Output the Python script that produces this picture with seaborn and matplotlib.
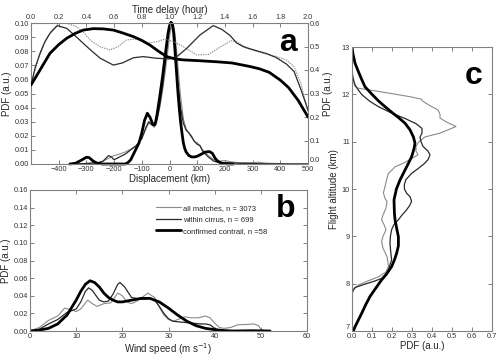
import numpy as np
import pandas as pd
import matplotlib
matplotlib.use("Agg")
import matplotlib.pyplot as plt
import seaborn as sns

# ---------------- data ----------------
# Panel a: displacement PDFs (km, PDF)
disp_all_x = [-350, -300, -260, -240, -220, -200, -180, -160, -140, -120, -100, -85, -75, -65, -55, -45, -35, -25, -15, -5,
              0, 5, 10, 15, 20, 25, 30, 40, 50, 60, 70, 80, 90, 100, 110, 120, 130, 140, 160, 180, 200, 220, 250, 300, 320,
              350, 400, 450, 500]
disp_all_y = [0.0, 0.0005, 0.001, 0.002, 0.004, 0.006, 0.007, 0.0085, 0.0105, 0.013, 0.018, 0.025, 0.029, 0.028, 0.026,
              0.031, 0.04, 0.052, 0.066, 0.082, 0.09, 0.097, 0.1, 0.098, 0.092, 0.082, 0.07, 0.048, 0.032, 0.025, 0.022,
              0.02, 0.016, 0.015, 0.013, 0.01, 0.008, 0.006, 0.003, 0.002, 0.0025, 0.0015, 0.001, 0.001, 0.0012, 0.0006,
              0.0003, 0.0001, 0.0]
disp_cir_x = [-350, -300, -260, -240, -220, -210, -200, -180, -160, -140, -120, -100, -85, -75, -65, -55, -45, -35, -25,
              -15, -5, 0, 5, 10, 15, 20, 25, 30, 40, 50, 60, 70, 80, 90, 100, 110, 120, 130, 140, 160, 180, 200, 250, 300,
              400, 500]
disp_cir_y = [0.0, 0.0003, 0.0008, 0.002, 0.006, 0.005, 0.003, 0.005, 0.007, 0.01, 0.013, 0.018, 0.026, 0.03, 0.028,
              0.027, 0.032, 0.042, 0.055, 0.072, 0.09, 0.096, 0.1, 0.101, 0.096, 0.086, 0.072, 0.058, 0.04, 0.029, 0.024,
              0.022, 0.019, 0.016, 0.014, 0.013, 0.009, 0.007, 0.005, 0.002, 0.001, 0.001, 0.0005, 0.0003, 0.0, 0.0]
disp_con_x = [-360, -340, -320, -300, -290, -275, -260, -240, -160, -150, -140, -130, -120, -110, -100, -90, -80, -70,
              -60, -52, -45, -35, -25, -15, -5, 0, 5, 10, 15, 20, 25, 30, 35, 40, 45, 50, 55, 60, 70, 80, 90, 100, 110,
              120, 130, 145, 155, 165, 175, 190, 210, 230]
disp_con_y = [0.0, 0.0005, 0.0025, 0.0048, 0.0045, 0.002, 0.0005, 0.0, 0.0, 0.001, 0.003, 0.007, 0.011, 0.015, 0.022,
              0.031, 0.036, 0.033, 0.028, 0.028, 0.035, 0.048, 0.062, 0.078, 0.093, 0.098, 0.1005, 0.0995, 0.093, 0.08,
              0.066, 0.052, 0.04, 0.03, 0.022, 0.015, 0.011, 0.0085, 0.006, 0.005, 0.005, 0.0055, 0.0065, 0.0075, 0.0085,
              0.0088, 0.0075, 0.004, 0.0018, 0.0005, 0.0, 0.0]

# Panel a: time delay PDFs (hour, PDF)
time_all_x = [0.0, 0.05, 0.1, 0.15, 0.2, 0.24, 0.28, 0.33, 0.38, 0.426, 0.498, 0.57, 0.63, 0.69, 0.763, 0.835, 0.907,
              0.967, 1.03, 1.1, 1.196, 1.28, 1.389, 1.449, 1.5, 1.557, 1.677, 1.773, 1.845, 1.9, 1.95, 2.0]
time_all_y = [0.336, 0.44, 0.52, 0.57, 0.596, 0.6, 0.595, 0.584, 0.56, 0.528, 0.499, 0.485, 0.5, 0.528, 0.532, 0.514,
              0.52, 0.532, 0.52, 0.499, 0.464, 0.466, 0.506, 0.525, 0.515, 0.492, 0.471, 0.457, 0.442, 0.414, 0.34, 0.22]
time_cir_x = [0.0, 0.03, 0.065, 0.1, 0.137, 0.19, 0.258, 0.32, 0.378, 0.44, 0.5, 0.594, 0.66, 0.739, 0.81, 0.907, 1.0,
              1.06, 1.124, 1.22, 1.316, 1.38, 1.437, 1.485, 1.534, 1.6, 1.7, 1.77, 1.845, 1.9, 1.95, 2.0]
time_cir_y = [0.336, 0.41, 0.471, 0.52, 0.556, 0.589, 0.577, 0.545, 0.513, 0.48, 0.45, 0.421, 0.43, 0.452, 0.457, 0.45,
              0.447, 0.46, 0.492, 0.549, 0.589, 0.572, 0.547, 0.515, 0.499, 0.487, 0.47, 0.453, 0.425, 0.393, 0.315, 0.23]
time_con_x = [0.0, 0.065, 0.137, 0.2, 0.258, 0.32, 0.378, 0.45, 0.52, 0.594, 0.66, 0.739, 0.8, 0.859, 0.92, 0.98, 1.04,
              1.1, 1.2, 1.34, 1.45, 1.58, 1.65, 1.72, 1.8, 1.86, 1.93, 2.0]
time_con_y = [0.336, 0.4, 0.471, 0.508, 0.535, 0.556, 0.57, 0.576, 0.575, 0.57, 0.558, 0.542, 0.526, 0.506, 0.48, 0.457,
              0.447, 0.443, 0.44, 0.435, 0.43, 0.415, 0.405, 0.39, 0.357, 0.325, 0.27, 0.2]

# Panel b: wind speed PDFs (m/s, PDF)
wind_all_x = [0, 2, 4, 6, 7.5, 9, 10, 11, 12.5, 13.5, 14.5, 16, 17.5, 19, 20, 21, 22, 23.5, 25.5, 27, 28, 29, 30, 31, 32,
              33.5, 35, 36.5, 38, 39, 40, 41, 42, 43.5, 45, 47, 48.5, 49.5, 50, 51]
wind_all_y = [0.0, 0.004, 0.012, 0.017, 0.026, 0.024, 0.022, 0.025, 0.035, 0.031, 0.028, 0.031, 0.032, 0.043, 0.04,
              0.033, 0.031, 0.035, 0.043, 0.038, 0.027, 0.018, 0.013, 0.011, 0.013, 0.016, 0.015, 0.015, 0.017, 0.015,
              0.009, 0.004, 0.003, 0.004, 0.007, 0.0075, 0.008, 0.006, 0.002, 0.0]
wind_cir_x = [0, 2, 4, 6, 8, 10, 11, 12, 12.7, 13.5, 15, 16, 17, 18, 19, 19.5, 20.5, 22, 24, 26, 27, 28, 29, 30, 31, 33,
              35, 37, 38, 39, 40, 41, 42]
wind_cir_y = [0.0, 0.002, 0.008, 0.013, 0.021, 0.025, 0.033, 0.045, 0.049, 0.046, 0.035, 0.033, 0.034, 0.042, 0.053,
              0.055, 0.05, 0.038, 0.036, 0.037, 0.035, 0.028, 0.02, 0.014, 0.011, 0.01, 0.009, 0.008, 0.008, 0.007, 0.003,
              0.0005, 0.0]
wind_con_x = [0, 2, 4, 6, 8, 10, 11, 12, 13, 14, 15, 16, 17, 18, 19, 20, 22, 24, 26, 28, 30, 32, 34, 36, 38, 40, 42, 44,
              48, 52]
wind_con_y = [0.0, 0.001, 0.003, 0.008, 0.018, 0.035, 0.045, 0.053, 0.057, 0.055, 0.05, 0.043, 0.038, 0.035, 0.033,
              0.033, 0.035, 0.037, 0.037, 0.033, 0.026, 0.018, 0.011, 0.006, 0.003, 0.0015, 0.0005, 0.0, 0.0003, 0.0]

# Panel c: flight altitude PDFs (km, PDF)
alt_all = [12.45, 12.3, 12.17, 12.13, 12.05, 11.95, 11.9, 11.85, 11.76, 11.67, 11.58, 11.5, 11.42, 11.32, 11.25, 11.18,
           11.1, 11.0, 10.9, 10.8, 10.72, 10.65, 10.55, 10.47, 10.4, 10.33, 10.2, 10.05, 9.92, 9.8, 9.74, 9.6, 9.45,
           9.35, 9.25, 9.14, 9.0, 8.89, 8.75, 8.57, 8.45, 8.36, 8.25, 8.15, 8.05, 7.97, 7.87, 7.8, 7.72]
pdf_alt_all = [0.0, 0.005, 0.015, 0.03, 0.15, 0.29, 0.345, 0.355, 0.39, 0.43, 0.44, 0.44, 0.47, 0.52, 0.48, 0.44,
               0.365, 0.335, 0.32, 0.32, 0.33, 0.3, 0.26, 0.215, 0.2, 0.182, 0.173, 0.165, 0.157, 0.165, 0.175, 0.17,
               0.155, 0.148, 0.16, 0.17, 0.155, 0.148, 0.155, 0.175, 0.18, 0.182, 0.17, 0.135, 0.075, 0.032, 0.007,
               0.002, 0.0]
alt_cir = [12.52, 12.35, 12.2, 12.1, 11.99, 11.85, 11.74, 11.6, 11.49, 11.38, 11.28, 11.18, 11.1, 11.0, 10.9, 10.8,
           10.72, 10.62, 10.53, 10.43, 10.33, 10.2, 10.1, 10.0, 9.9, 9.84, 9.74, 9.65, 9.56, 9.45, 9.35, 9.25, 9.14,
           9.0, 8.86, 8.7, 8.5, 8.4, 8.29, 8.2, 8.11, 8.05, 7.99, 7.92, 7.85, 7.76]
pdf_alt_cir = [0.0, 0.005, 0.015, 0.03, 0.05, 0.09, 0.132, 0.2, 0.265, 0.32, 0.35, 0.35, 0.34, 0.345, 0.355, 0.38,
               0.39, 0.38, 0.36, 0.33, 0.298, 0.27, 0.262, 0.262, 0.275, 0.29, 0.298, 0.288, 0.273, 0.25, 0.232, 0.21,
               0.198, 0.192, 0.19, 0.193, 0.198, 0.19, 0.182, 0.17, 0.148, 0.11, 0.065, 0.015, 0.004, 0.0]
alt_con = [13.0, 12.85, 12.66, 12.5, 12.3, 12.16, 12.0, 11.85, 11.74, 11.6, 11.5, 11.39, 11.25, 11.1, 10.97, 10.85,
           10.68, 10.55, 10.4, 10.19, 10.0, 9.77, 9.5, 9.35, 9.2, 8.99, 8.8, 8.64, 8.5, 8.36, 8.2, 8.08, 7.9, 7.73,
           7.55, 7.37, 7.2, 7.09, 7.0]
pdf_alt_con = [0.0, 0.005, 0.015, 0.03, 0.05, 0.065, 0.1, 0.135, 0.165, 0.205, 0.235, 0.265, 0.29, 0.307, 0.315, 0.31,
               0.298, 0.283, 0.265, 0.24, 0.222, 0.21, 0.212, 0.215, 0.222, 0.232, 0.232, 0.223, 0.212, 0.198, 0.172,
               0.148, 0.118, 0.09, 0.068, 0.048, 0.028, 0.015, 0.007]

labels = ["all matches, n = 3073", "within cirrus, n = 699", "confirmed contrail, n =58"]

# ---------------- style ----------------
sns.set_theme(style="ticks")
plt.rcParams["font.family"] = ["Liberation Sans", "DejaVu Sans"]
plt.rcParams["axes.edgecolor"] = "#808080"
plt.rcParams["axes.linewidth"] = 0.8
plt.rcParams["xtick.color"] = "#808080"
plt.rcParams["ytick.color"] = "#808080"
plt.rcParams["xtick.labelcolor"] = "#333333"
plt.rcParams["ytick.labelcolor"] = "#333333"

C_ALL = "#8a8a8a"
C_CIR = "#2a2a2a"
C_CON = "#000000"
LW_ALL, LW_CIR, LW_CON = 0.8, 0.9, 2.0
TICK_FS = 5.3
LAB_FS = 7

W, H = 500, 356
fig = plt.figure(figsize=(W / 100, H / 100), dpi=100)


def rect(x0, y0, x1, y1):
    return [x0 / W, 1 - y1 / H, (x1 - x0) / W, (y1 - y0) / H]


def style_ticks(ax, **kw):
    ax.tick_params(direction="in", length=3, width=0.7, labelsize=TICK_FS, pad=1.5, **kw)


def line(ax, x, y, **kw):
    sns.lineplot(x=x, y=y, ax=ax, estimator=None, sort=False, **kw)


# ---------------- panel a ----------------
axa = fig.add_axes(rect(31, 23, 308, 164))
line(axa, disp_all_x, disp_all_y, color=C_ALL, lw=LW_ALL)
line(axa, disp_cir_x, disp_cir_y, color=C_CIR, lw=LW_CIR)
line(axa, disp_con_x, disp_con_y, color=C_CON, lw=LW_CON, clip_on=False)
axa.set_xlim(-500, 500)
axa.set_ylim(0, 0.10)
axa.set_xticks(np.arange(-400, 501, 100))
axa.set_yticks(np.arange(0, 0.1001, 0.01))
axa.set_yticklabels([f"{v:.2f}" for v in np.arange(0, 0.1001, 0.01)])
axa.set_xlabel("Displacement (km)", fontsize=LAB_FS, labelpad=1)
axa.set_ylabel("PDF (a.u.)", fontsize=LAB_FS, labelpad=2)
style_ticks(axa, top=False, right=False)

axt = fig.add_axes(rect(31, 23, 308, 164), frameon=False)
axt.patch.set_alpha(0)
line(axt, time_all_x, time_all_y, color=C_ALL, lw=0.8, ls=(0, (1.2, 1.0)))
line(axt, time_cir_x, time_cir_y, color=C_CIR, lw=LW_CIR)
line(axt, time_con_x, time_con_y, color=C_CON, lw=LW_CON)
axt.set_xlim(0, 2.0)
axt.set_ylim(0, 0.6)
axt.xaxis.tick_top()
axt.xaxis.set_label_position("top")
axt.yaxis.tick_right()
axt.yaxis.set_label_position("right")
axt.set_xticks(np.arange(0, 2.01, 0.2))
axt.set_xticklabels([f"{v:.1f}" for v in np.arange(0, 2.01, 0.2)])
axt.set_yticks(np.arange(0, 0.61, 0.1))
axt.set_yticklabels([f"{v:.1f}" for v in np.arange(0, 0.61, 0.1)])
axt.set_xlabel("Time delay (hour)", fontsize=LAB_FS, labelpad=1)
axt.set_ylabel("PDF (a.u.)", fontsize=LAB_FS, labelpad=2)
style_ticks(axt, top=True, right=True, bottom=False, left=False,
            labeltop=True, labelright=True, labelbottom=False, labelleft=False)
axt.get_yticklabels()[0].set_va("bottom")

# ---------------- panel b ----------------
axb = fig.add_axes(rect(30, 190, 307, 331))
line(axb, wind_all_x, wind_all_y, color=C_ALL, lw=LW_ALL, label=labels[0])
line(axb, wind_cir_x, wind_cir_y, color=C_CIR, lw=LW_CIR, label=labels[1])
line(axb, wind_con_x, wind_con_y, color=C_CON, lw=LW_CON, label=labels[2])
axb.set_xlim(0, 60)
axb.set_ylim(0, 0.16)
axb.set_xticks(np.arange(0, 61, 10))
axb.set_yticks(np.arange(0, 0.161, 0.02))
axb.set_yticklabels([f"{v:.2f}" for v in np.arange(0, 0.161, 0.02)])
axb.set_xlabel("Wind speed (m s$^{-1}$)", fontsize=LAB_FS, labelpad=1)
axb.set_ylabel("PDF (a.u.)", fontsize=LAB_FS, labelpad=2)
style_ticks(axb, top=True, right=True)
axb.legend(loc="upper left", bbox_to_anchor=(0.445, 0.92), frameon=False, fontsize=5.5,
           handlelength=3.2, handletextpad=0.3, labelspacing=0.55, borderaxespad=0)

# ---------------- panel c ----------------
axc = fig.add_axes(rect(352, 47, 492, 331))
line(axc, pdf_alt_all, alt_all, color=C_ALL, lw=LW_ALL)
line(axc, pdf_alt_cir, alt_cir, color=C_CIR, lw=LW_CIR)
line(axc, pdf_alt_con, alt_con, color=C_CON, lw=LW_CON)
axc.set_xlim(0, 0.7)
axc.set_ylim(7, 13)
axc.set_xticks(np.arange(0, 0.71, 0.1))
axc.set_xticklabels([f"{v:.1f}" for v in np.arange(0, 0.71, 0.1)])
axc.set_yticks(np.arange(7, 13.1, 1))
axc.set_xlabel("PDF (a.u.)", fontsize=LAB_FS, labelpad=1)
axc.set_ylabel("Flight altitude (km)", fontsize=LAB_FS, labelpad=2)
style_ticks(axc, top=True, right=True)
axc.get_yticklabels()[0].set_va("bottom")

# panel letters
for txt, x, y in [("a", 288, 43), ("b", 286, 209), ("c", 474, 76)]:
    fig.text(x / W, 1 - y / H, txt, fontsize=23, fontweight="bold", ha="center", va="center", color="black")

fig.savefig("out.png", dpi=100)
